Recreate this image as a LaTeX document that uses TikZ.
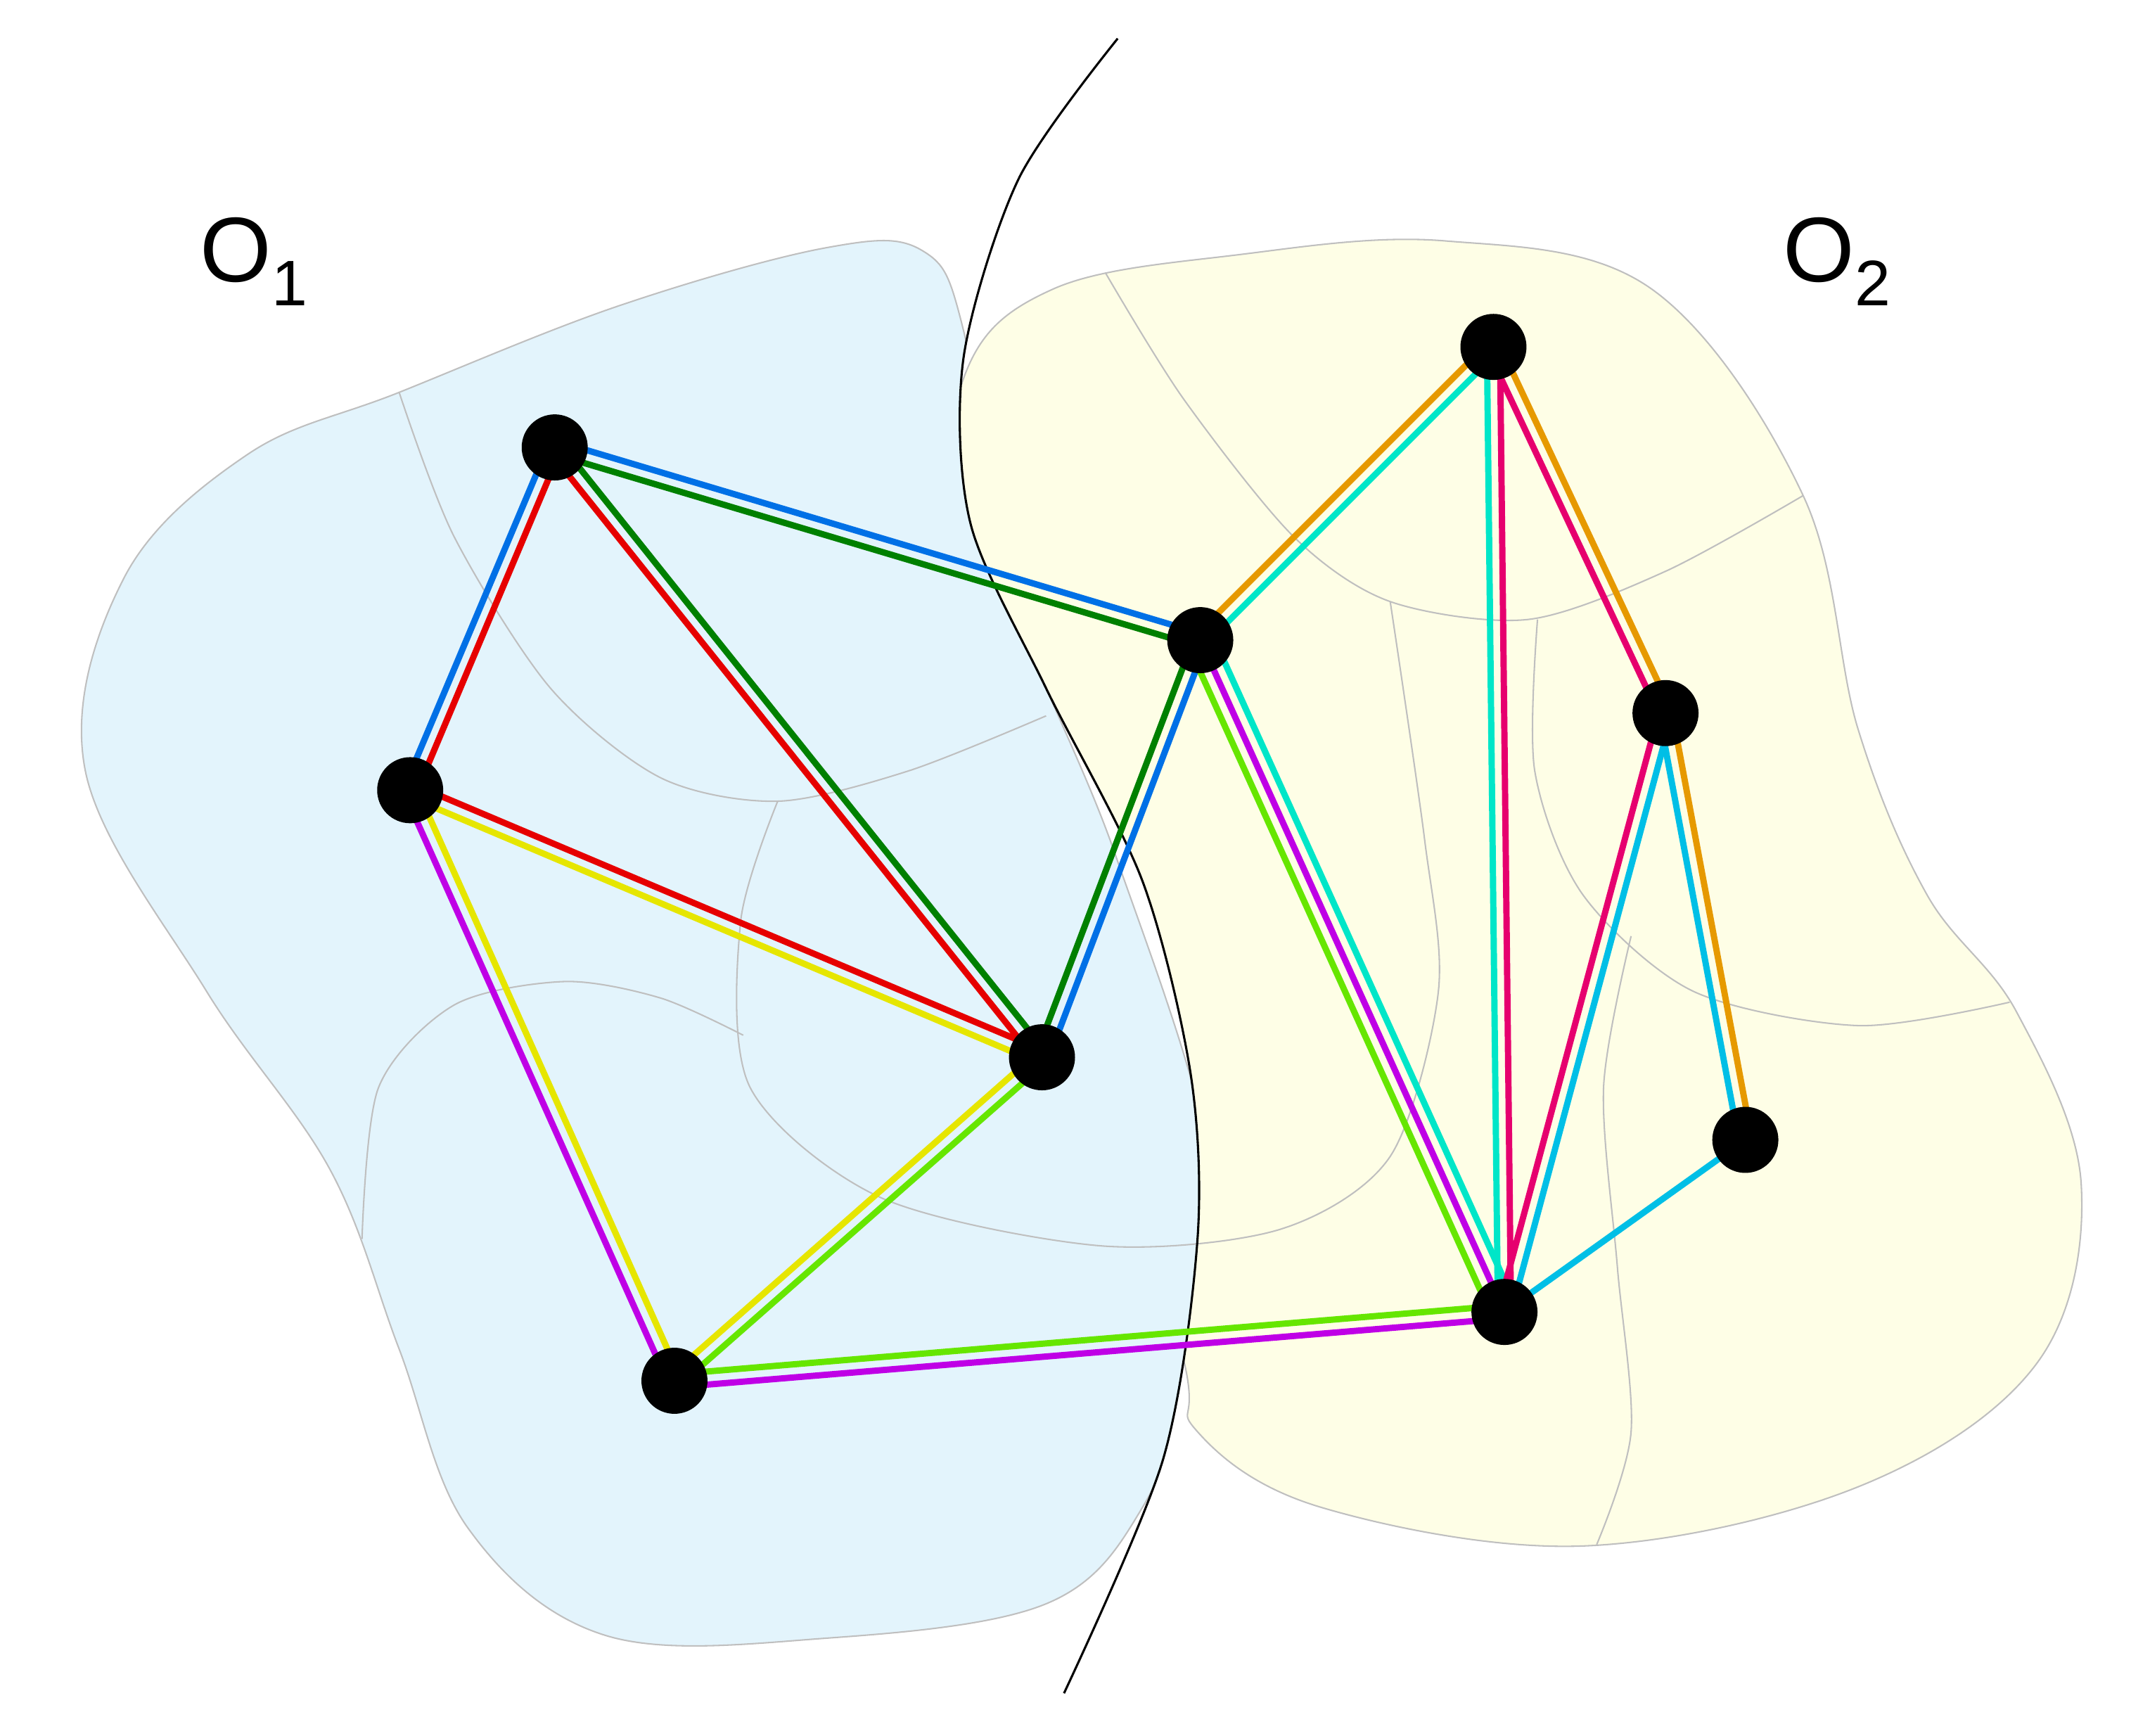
\documentclass[tikz,border=0pt]{standalone}
\usepackage{fontspec}
\setmainfont{Liberation Sans}
\usetikzlibrary{calc}
\definecolor{cblue}{HTML}{0070E6}
\definecolor{cred}{HTML}{E60000}
\definecolor{cgreen}{HTML}{008000}
\definecolor{cyel}{HTML}{E6E600}
\definecolor{cpur}{HTML}{BF00E6}
\definecolor{clime}{HTML}{66E600}
\definecolor{corange}{HTML}{E69900}
\definecolor{cturq}{HTML}{00E6C8}
\definecolor{ccrim}{HTML}{E6006E}
\definecolor{ccyan}{HTML}{00BFE6}
\definecolor{fblue}{HTML}{E3F4FC}
\definecolor{fyel}{HTML}{FEFEE6}
\tikzset{ln/.style={line width=2.6pt},
  vtx/.style={circle,fill=black,inner sep=0pt,minimum size=0.96cm},
  thin gray/.style={draw=black!25,line width=0.6pt},
  lab/.style={font=\fontsize{38}{40}\selectfont}}
\newcommand\pe[4]{\draw[#4,ln] ($(#1)!#3!90:(#2)$) -- ($(#2)!#3!-90:(#1)$);}
\begin{document}
\begin{tikzpicture}[x=0.02cm,y=-0.02cm]
\useasboundingbox (0,0) rectangle (1562,1261);
% blue blob
\begin{scope}
\clip plot[smooth] coordinates{(812,28) (740,130) (700,260) (705,380) (760,500) (830,640) (865,780) (870,900) (845,1060) (773,1230)} -- (773,1300) -- (-10,1300) -- (-10,-10) -- (812,-10) -- cycle;
\path[fill=fblue,thin gray] plot[smooth cycle,tension=0.6] coordinates{(290,285) (450,222) (600,180) (670,182) (700,240) (730,420) (810,620) (880,850) (860,1000) (830,1095) (760,1165) (600,1190) (440,1188) (340,1110) (290,980) (240,850) (150,720) (62,560) (90,420) (180,330)};
\end{scope}
% yellow blob
\begin{scope}
\clip plot[smooth] coordinates{(812,28) (740,130) (700,260) (705,380) (760,500) (830,640) (865,780) (870,900) (845,1060) (773,1230)} -- (773,1300) -- (1600,1300) -- (1600,-10) -- (812,-10) -- cycle;
\path[fill=fyel,thin gray] plot[smooth cycle,tension=0.6] coordinates{(700,275) (765,210) (900,185) (1050,175) (1200,210) (1310,360) (1350,530) (1400,650) (1465,735) (1512,860) (1480,990) (1350,1080) (1150,1123) (960,1095) (870,1040) (858,980) (780,700) (690,420)};
\end{scope}
% internal region lines
\draw[thin gray] plot[smooth] coordinates{(290,285) (330,390) (400,500) (480,565) (565,582) (660,560) (760,520)};
\draw[thin gray] plot[smooth] coordinates{(565,582) (538,670) (545,790) (640,870) (800,905) (930,893) (1010,840) (1045,720) (1035,610) (1010,437)};
\draw[thin gray] plot[smooth] coordinates{(263,900) (275,790) (330,730) (410,713) (480,725) (540,752)};
\draw[thin gray] plot[smooth] coordinates{(803,198) (860,290) (940,390) (1010,437) (1110,450) (1210,415) (1310,360)};
\draw[thin gray] plot[smooth] coordinates{(1117,450) (1115,560) (1150,650) (1230,720) (1350,745) (1460,728)};
\draw[thin gray] plot[smooth] coordinates{(1185,680) (1165,790) (1175,920) (1185,1040) (1160,1122)};
% black curve
\draw[black,line width=0.9pt] plot[smooth] coordinates{(812,28) (740,130) (700,260) (705,380) (760,500) (830,640) (865,780) (870,900) (845,1060) (773,1230)};
% labels
\node[lab] (o1) at (185,190) {O\textsubscript{1}};
\node[lab] (o2) at (1335,190) {O\textsubscript{2}};
% vertices
\coordinate (A) at (403,325); \coordinate (B) at (298,574);
\coordinate (C) at (757,768); \coordinate (D) at (490,1003);
\coordinate (E) at (872,465); \coordinate (F) at (1085,252);
\coordinate (G) at (1210,518); \coordinate (H) at (1268,828);
\coordinate (I) at (1093,953);
\def\d{0.095cm}
\pe{A}{B}{\d}{cred}\pe{A}{B}{-\d}{cblue}
\pe{A}{E}{\d}{cblue}\pe{A}{E}{-\d}{cgreen}
\pe{A}{C}{\d}{cgreen}\pe{A}{C}{-\d}{cred}
\pe{B}{C}{\d}{cred}\pe{B}{C}{-\d}{cyel}
\pe{B}{D}{\d}{cyel}\pe{B}{D}{-\d}{cpur}
\pe{C}{D}{\d}{clime}\pe{C}{D}{-\d}{cyel}
\pe{C}{E}{\d}{cgreen}\pe{C}{E}{-\d}{cblue}
\pe{D}{I}{\d}{clime}\pe{D}{I}{-\d}{cpur}
\pe{E}{F}{\d}{corange}\pe{E}{F}{-\d}{cturq}
\pe{E}{I}{-0.19cm}{clime}\pe{E}{I}{0cm}{cpur}\pe{E}{I}{0.19cm}{cturq}
\pe{F}{I}{\d}{ccrim}\pe{F}{I}{-\d}{cturq}
\pe{F}{G}{\d}{corange}\pe{F}{G}{-\d}{ccrim}
\pe{G}{I}{\d}{ccyan}\pe{G}{I}{-\d}{ccrim}
\pe{G}{H}{\d}{corange}\pe{G}{H}{-\d}{ccyan}
\draw[ccyan,ln] (H) -- (I);
\foreach \n in {A,B,C,D,E,F,G,H,I} \node[vtx] (v\n) at (\n) {};
\end{tikzpicture}
\end{document}
